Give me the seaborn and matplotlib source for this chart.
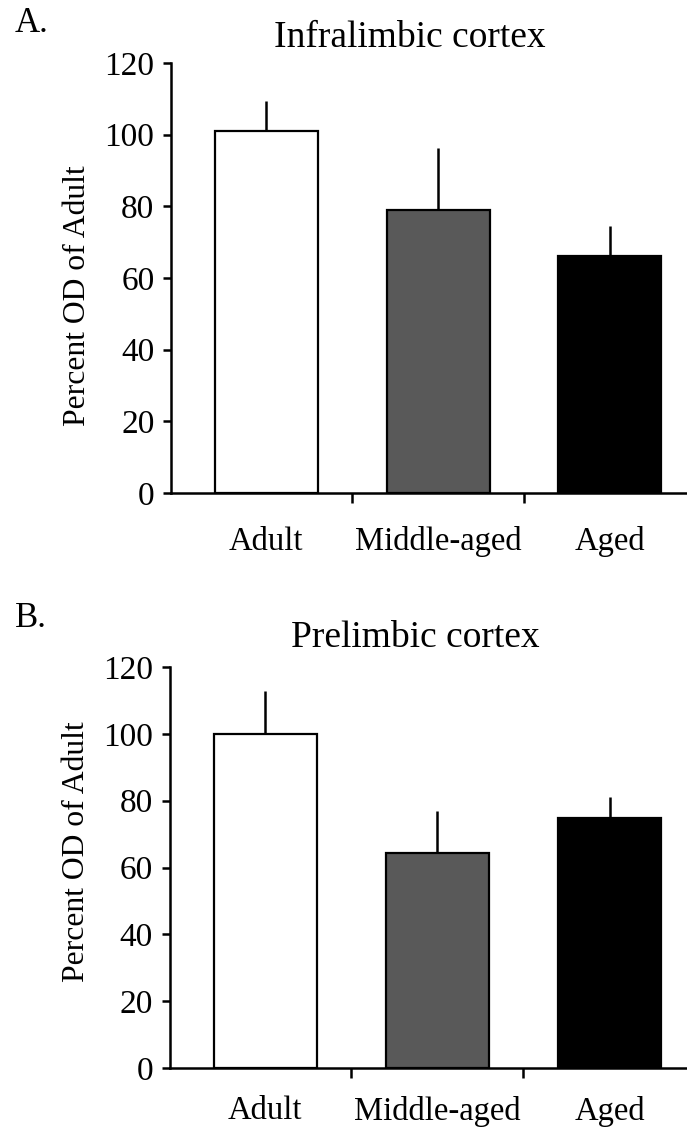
import matplotlib
matplotlib.use("Agg")
import matplotlib.pyplot as plt
import seaborn as sns
import pandas as pd

sns.set_theme(style="ticks")
plt.rcParams["font.family"] = ["Liberation Serif", "DejaVu Serif"]
plt.rcParams["text.color"] = "black"
plt.rcParams["xtick.color"] = "black"
plt.rcParams["ytick.color"] = "black"
plt.rcParams["axes.labelcolor"] = "black"

GROUPS = ["Adult", "Middle-aged", "Aged"]
COLORS = ["#ffffff", "#595959", "#000000"]

IL_MEAN = [101.0, 79.1, 66.2]
IL_SEM = [8.3, 17.1, 8.4]
PL_MEAN = [100.0, 64.4, 74.7]
PL_SEM = [12.7, 12.5, 6.5]

Y_TICKS = [0, 20, 40, 60, 80, 100, 120]


def draw_panel(ax, means, sems, title, title_x, title_y, ylabel_y, xpad):
    df = pd.DataFrame({"group": GROUPS, "value": means})
    sns.barplot(data=df, x="group", y="value", hue="group", palette=COLORS,
                order=GROUPS, hue_order=GROUPS, legend=False, width=0.6,
                edgecolor="black", linewidth=1.6, errorbar=None, ax=ax)
    ax.errorbar(range(len(GROUPS)), means, yerr=[[0] * len(sems), sems],
                fmt="none", ecolor="black", elinewidth=1.8, capsize=0, zorder=3)

    ax.set_xlim(-0.555, 2.45)
    ax.set_ylim(0, 120)
    ax.set_yticks(Y_TICKS)
    ax.set_xticks(range(len(GROUPS)))
    ax.set_xticklabels(GROUPS)
    ax.set_xticks([0.5, 1.5], minor=True)
    ax.tick_params(axis="x", which="major", length=0, pad=xpad, labelsize=23.5)
    ax.tick_params(axis="x", which="minor", length=7, width=1.8, direction="out")
    ax.tick_params(axis="y", length=6, width=1.8, pad=6, labelsize=24)

    ax.set_xlabel("")
    ax.set_ylabel("Percent OD of Adult", fontsize=22.8)
    ax.yaxis.set_label_coords(-0.153, ylabel_y)
    ax.text(title_x, title_y, title, transform=ax.transAxes,
            ha="center", va="center", fontsize=27)

    for side in ["top", "right"]:
        ax.spines[side].set_visible(False)
    for side in ["left", "bottom"]:
        ax.spines[side].set_linewidth(1.8)
        ax.spines[side].set_color("black")


fig = plt.figure(figsize=(6.87, 11.30), dpi=100)
ax_a = fig.add_axes([0.249, 0.5637, 0.751, 0.3805])
ax_b = fig.add_axes([0.247, 0.0549, 0.753, 0.3548])

draw_panel(ax_a, IL_MEAN, IL_SEM, "Infralimbic cortex", 0.463, 1.06, 0.46, 24)
draw_panel(ax_b, PL_MEAN, PL_SEM, "Prelimbic cortex", 0.474, 1.072, 0.54, 20)

fig.text(0.022, 0.979, "A.", fontsize=25, ha="left", va="center")
fig.text(0.022, 0.453, "B.", fontsize=25, ha="left", va="center")

fig.savefig("out.png", dpi=100, facecolor="white")
plt.close(fig)
